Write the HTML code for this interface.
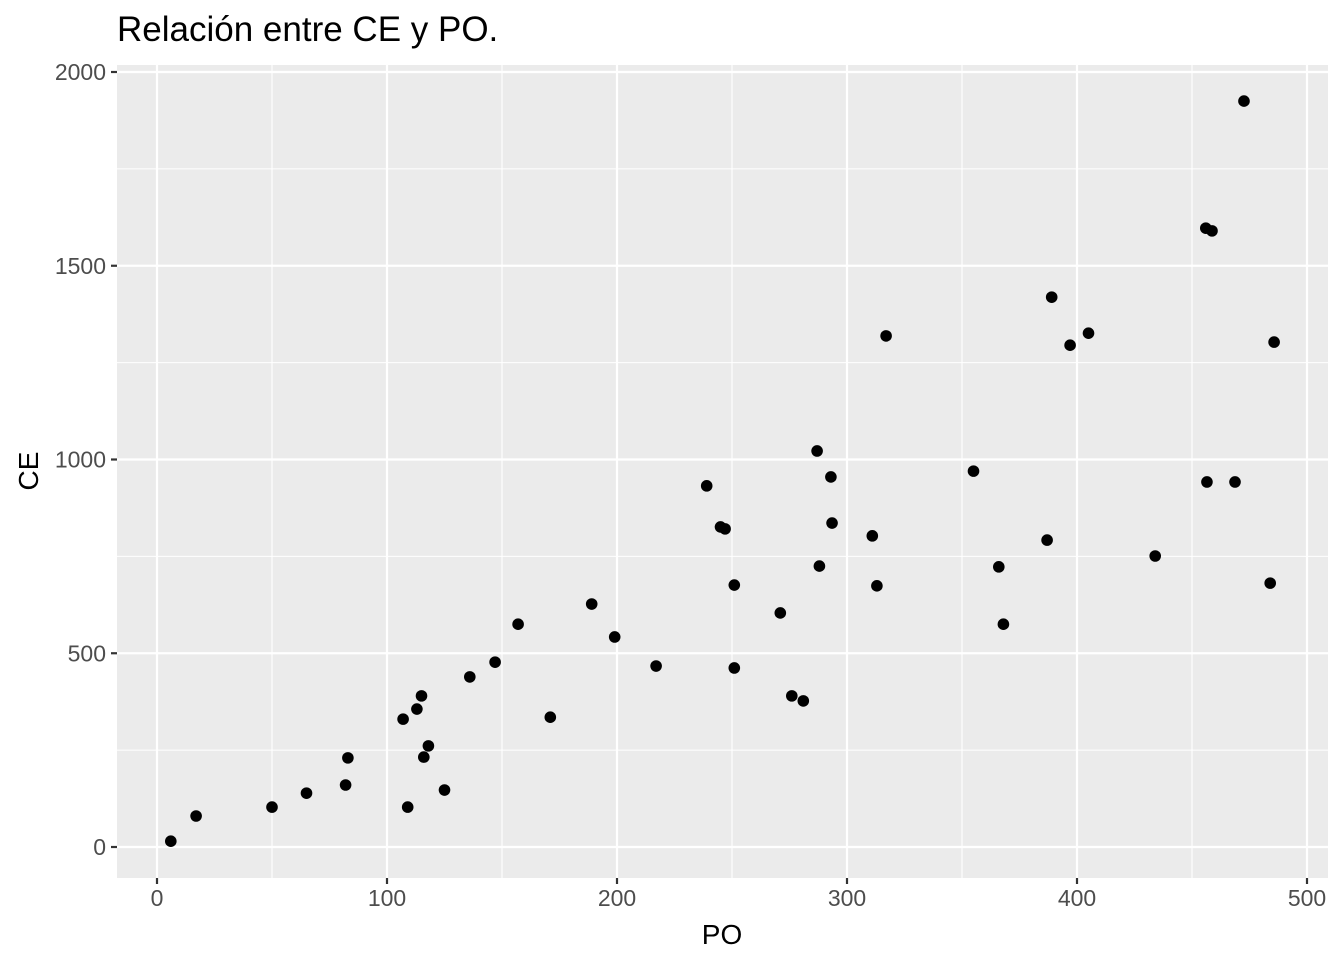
<!DOCTYPE html>
<html><head><meta charset="utf-8"><style>
html,body{margin:0;padding:0;background:#fff;}
svg{display:block;font-family:"Liberation Sans",Arial,sans-serif;}
</style></head><body>
<svg id="chart" width="1344" height="960">
<text x="117" y="41" font-size="35" fill="#000">Relación entre CE y PO.</text>
<rect x="117" y="65" width="1211" height="813" fill="#ebebeb"/>
<g id="grid"></g>
<g id="pts"></g>
<g id="axes"></g>
<text x="722" y="944" font-size="28" text-anchor="middle" fill="#000">PO</text>
<text transform="translate(38,471) rotate(-90)" font-size="28" text-anchor="middle" fill="#000">CE</text>
</svg>
<script>
const poValues=[6,17,50,65,82,83,107,109,113,115,116,118,125,136,147,157,171,189,199,217,239,245,247,251,251,271,276,281,287,288,293,293.5,311,313,317,355,366,368,387,389,397,405,434,456,456.5,458.7,468.7,472.6,484,485.7];
const ceValues=[15,80,103,139,160,230,330,103,356,390,232,261,147,439,477,575,335,627,542,467,932,826,821,676,462,604,390,377,1022,725,955,836,803,674,1319,970,723,575,792,1419,1295,1326,751,1597,942,1590,942,1925,681,1303];
const xTicks=[0,100,200,300,400,500];
const yTicks=[0,500,1000,1500,2000];
const xMinor=[50,150,250,350,450];
const yMinor=[250,750,1250,1750];
const L=117,R=1328,T=65,B=878;
const sx=v=>157+v*2.3;
const sy=v=>847-v*0.3875;
const NS="http://www.w3.org/2000/svg";
function mk(tag,attrs,parent){const e=document.createElementNS(NS,tag);for(const k in attrs)e.setAttribute(k,attrs[k]);parent.appendChild(e);return e;}
const grid=document.getElementById('grid'),axes=document.getElementById('axes'),pts=document.getElementById('pts');
xMinor.forEach(v=>{const l=mk('line',{x1:sx(v),x2:sx(v),y1:T,y2:B,stroke:'#fff','stroke-width':1.1},grid);

});
yMinor.forEach(v=>{const l=mk('line',{x1:L,x2:R,y1:sy(v),y2:sy(v),stroke:'#fff','stroke-width':1.1},grid);

});
xTicks.forEach(v=>{const l=mk('line',{x1:sx(v),x2:sx(v),y1:T,y2:B,stroke:'#fff','stroke-width':2.2},grid);


const t=mk('line',{x1:sx(v),x2:sx(v),y1:B,y2:B+6,stroke:'#333','stroke-width':2.2},axes);


const tx=mk('text',{x:sx(v),y:B+28,'font-size':23,'text-anchor':'middle',fill:'#4d4d4d'},axes);tx.textContent=v;

});
yTicks.forEach(v=>{const l=mk('line',{x1:L,x2:R,y1:sy(v),y2:sy(v),stroke:'#fff','stroke-width':2.2},grid);


const t=mk('line',{x1:L-6,x2:L,y1:sy(v),y2:sy(v),stroke:'#333','stroke-width':2.2},axes);


const tx=mk('text',{x:L-11,y:sy(v)+8,'font-size':23,'text-anchor':'end',fill:'#4d4d4d'},axes);tx.textContent=v;

});
poValues.forEach((p,i)=>{const c=mk('circle',{cx:sx(p),cy:sy(ceValues[i]),r:5.8,fill:'#000'},pts);

});
</script>
</body></html>
